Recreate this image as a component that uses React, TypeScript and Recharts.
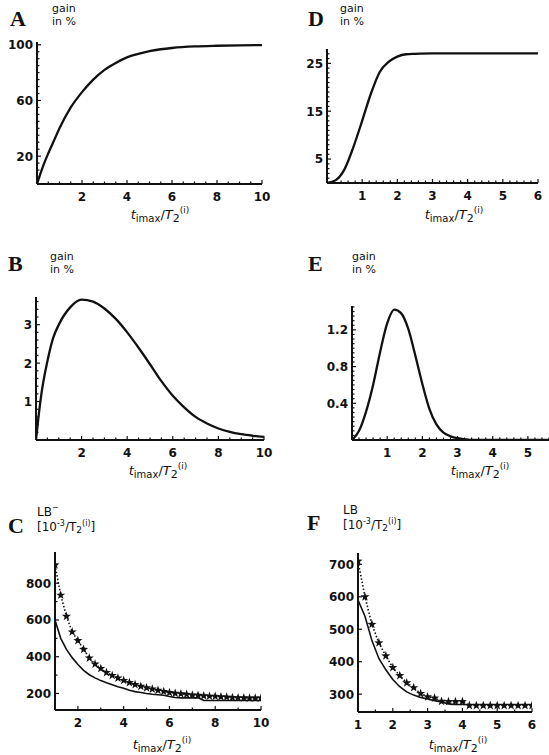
import React from 'react';
import { LineChart, Line, XAxis, YAxis } from 'recharts';

// A: gain in % vs timax/T2
const aX = [0, 0.25, 0.5, 0.75, 1, 1.5, 2, 2.5, 3, 3.5, 4, 4.5, 5, 5.5, 6, 7, 8, 9, 10];
const aGain = [0, 12, 22, 31, 40, 55, 66, 75, 82, 87, 91, 93.5, 95.5, 96.8, 97.7, 98.8, 99.3, 99.6, 99.8];
const aXLabels = [2, 4, 6, 8, 10];
const aYLabels = [20, 60, 100];

// B
const bX = [0, 0.1, 0.25, 0.5, 0.75, 1, 1.5, 2, 2.5, 3, 3.5, 4, 4.5, 5, 5.5, 6, 6.5, 7, 7.5, 8, 8.5, 9, 9.5, 10];
const bGain = [0, 0.55, 1.25, 2.05, 2.65, 3.0, 3.45, 3.65, 3.6, 3.42, 3.15, 2.8, 2.4, 1.97, 1.53, 1.15, 0.85, 0.6, 0.43, 0.3, 0.21, 0.15, 0.11, 0.08];
const bXLabels = [2, 4, 6, 8, 10];
const bYLabels = [1, 2, 3];

// C: LB, stars (dotted) and solid
const cX = [1, 1.25, 1.5, 1.75, 2, 2.25, 2.5, 2.75, 3, 3.25, 3.5, 3.75, 4, 4.25, 4.5, 4.75, 5, 5.25, 5.5, 5.75, 6, 6.25, 6.5, 6.75, 7, 7.25, 7.5, 7.75, 8, 8.25, 8.5, 8.75, 9, 9.25, 9.5, 9.75, 10];
const cStar = [900, 735, 620, 535, 488, 440, 393, 360, 336, 314, 298, 284, 271, 259, 248, 239, 231, 224, 217, 211, 205, 201, 198, 195, 192, 190, 187, 185, 184, 182, 180, 178, 177, 176, 175, 175, 175];
const cSolid = [600, 500, 440, 395, 358, 326, 302, 285, 270, 258, 248, 237, 228, 218, 210, 205, 200, 196, 193, 190, 183, 178, 176, 176, 176, 176, 162, 162, 162, 162, 162, 162, 162, 162, 162, 162, 162];
const cXLabels = [2, 4, 6, 8, 10];
const cYLabels = [200, 400, 600, 800];

// D
const dX = [0, 0.25, 0.5, 0.75, 1, 1.25, 1.5, 1.75, 2, 2.25, 2.5, 3, 4, 5, 6];
const dGain = [0, 0.6, 2.9, 7.5, 13, 18.7, 23.2, 25.3, 26.4, 26.9, 27.0, 27.1, 27.1, 27.1, 27.1];
const dXLabels = [1, 2, 3, 4, 5, 6];
const dYLabels = [5, 15, 25];

// E
const eX = [0, 0.2, 0.4, 0.6, 0.8, 1, 1.2, 1.4, 1.6, 1.8, 2, 2.2, 2.4, 2.6, 2.8, 3, 3.2, 3.4, 4, 5, 5.6];
const eGain = [0, 0.1, 0.31, 0.6, 0.96, 1.27, 1.42, 1.38, 1.21, 0.92, 0.61, 0.34, 0.17, 0.08, 0.04, 0.02, 0.01, 0, 0, 0, 0];
const eXLabels = [1, 2, 3, 4, 5];
const eYLabels = [0.4, 0.8, 1.2];

// F
const fX = [1, 1.2, 1.4, 1.6, 1.8, 2, 2.2, 2.4, 2.6, 2.8, 3, 3.2, 3.4, 3.6, 3.8, 4, 4.2, 4.4, 4.6, 4.8, 5, 5.2, 5.4, 5.6, 5.8, 6];
const fStar = [710, 600, 515, 458, 418, 382, 357, 335, 320, 302, 292, 288, 278, 277, 277, 277, 265, 265, 265, 265, 265, 265, 265, 265, 265, 265];
const fSolid = [590, 540, 465, 410, 375, 345, 323, 307, 297, 290, 285, 280, 276, 270, 268, 268, 268, 268, 268, 268, 268, 268, 268, 268, 268, 268];
const fXLabels = [1, 2, 3, 4, 5, 6];
const fYLabels = [300, 400, 500, 600, 700];

const INK = '#111';
const SANS = 'DejaVu Sans';

// tick positions incl. minor ticks
function steps(from: number, to: number, step: number) {
  const out: number[] = [];
  for (let v = from; v <= to + 1e-9; v += step) out.push(Math.round(v * 1000) / 1000);
  return out;
}

const isMajor = (labels: number[], v: number) => labels.some((l) => Math.abs(l - v) < 1e-6);

function XTick(props: any) {
  const { x, y, payload, labels } = props;
  const major = isMajor(labels, payload.value);
  return (
    <g>
      <line x1={x} x2={x} y1={y} y2={y - (major ? 4 : 2.5)} stroke={INK} strokeWidth={1.2} />
      {major && (
        <text x={x} y={y + 17} textAnchor="middle" fontFamily={SANS} fontWeight="bold" fontSize={12} fill={INK}>
          {String(payload.value)}
        </text>
      )}
    </g>
  );
}

function YTick(props: any) {
  const { x, y, payload, labels } = props;
  const major = isMajor(labels, payload.value);
  return (
    <g>
      <line x1={x} x2={x + (major ? 4 : 2.5)} y1={y} y2={y} stroke={INK} strokeWidth={1.2} />
      {major && (
        <text x={x - 4} y={y + 4.4} textAnchor="end" fontFamily={SANS} fontWeight="bold" fontSize={12} fill={INK}>
          {String(payload.value)}
        </text>
      )}
    </g>
  );
}

function StarDot(props: any) {
  const { cx, cy } = props;
  if (cx == null || cy == null) return null;
  const pts: string[] = [];
  for (let i = 0; i < 10; i++) {
    const r = i % 2 === 0 ? 4.8 : 1.9;
    const a = -Math.PI / 2 + (i * Math.PI) / 5;
    pts.push(`${(cx + r * Math.cos(a)).toFixed(2)},${(cy + r * Math.sin(a)).toFixed(2)}`);
  }
  return <polygon points={pts.join(' ')} fill={INK} />;
}

interface PlotRect {
  left: number;
  top: number;
  right: number;
  bottom: number;
}

interface PanelProps {
  plot: PlotRect;
  data: any[];
  xDomain: [number, number];
  yDomain: [number, number];
  xTicks: number[];
  yTicks: number[];
  xLabels: number[];
  yLabels: number[];
  children: React.ReactNode;
}

const Y_W = 36;
const X_H = 28;

function Panel({ plot, data, xDomain, yDomain, xTicks, yTicks, xLabels, yLabels, children }: PanelProps) {
  const padL = 40, padT = 10, padR = 12, padB = 30;
  const w = plot.right - plot.left + padL + padR;
  const h = plot.bottom - plot.top + padT + padB;
  return (
    <div style={{ position: 'absolute', left: plot.left - padL, top: plot.top - padT, width: w, height: h }}>
      <LineChart width={w} height={h} data={data} margin={{ top: padT, right: padR, bottom: padB - X_H, left: padL - Y_W }}>
        <XAxis
          dataKey="x"
          type="number"
          domain={xDomain}
          ticks={xTicks}
          interval={0}
          height={X_H}
          tickSize={0}
          tickMargin={0}
          allowDataOverflow
          axisLine={{ stroke: INK, strokeWidth: 2 }}
          tickLine={false}
          tick={<XTick labels={xLabels} />}
        />
        <YAxis
          type="number"
          domain={yDomain}
          ticks={yTicks}
          interval={0}
          width={Y_W}
          tickSize={0}
          tickMargin={0}
          allowDataOverflow
          axisLine={{ stroke: INK, strokeWidth: 2 }}
          tickLine={false}
          tick={<YTick labels={yLabels} />}
        />
        {children}
      </LineChart>
    </div>
  );
}

function XTitle({ cx, y }: { cx: number; y: number }) {
  return (
    <text x={cx} y={y} textAnchor="middle" fontFamily={SANS} fontSize={13} fill={INK}>
      <tspan fontStyle="italic">t</tspan>
      <tspan fontSize={10} dy={3}>imax</tspan>
      <tspan dy={-3}>/</tspan>
      <tspan fontStyle="italic">T</tspan>
      <tspan fontSize={11} dy={3}>2</tspan>
      <tspan fontSize={9} dy={-9}>(i)</tspan>
    </text>
  );
}

function GainTitle({ x, y }: { x: number; y: number }) {
  return (
    <g fontFamily={SANS} fontSize={11} fill={INK}>
      <text x={x} y={y}>gain</text>
      <text x={x} y={y + 13}>in %</text>
    </g>
  );
}

function LBTitle({ x, y, bar }: { x: number; y: number; bar: boolean }) {
  return (
    <g fontFamily={SANS} fontSize={12} fill={INK}>
      <text x={x} y={y}>
        LB
        {bar && <tspan fontSize={8} dy={-6}>−</tspan>}
      </text>
      <text x={x} y={y + 15}>
        [10
        <tspan fontSize={8} dy={-5}>-3</tspan>
        <tspan dy={5}>/T</tspan>
        <tspan fontSize={9} dy={2}>2</tspan>
        <tspan fontSize={8} dy={-7}>(i)</tspan>
        <tspan dy={5}>]</tspan>
      </text>
    </g>
  );
}

function Letter({ x, y, children }: { x: number; y: number; children: string }) {
  return (
    <text x={x} y={y} fontFamily="Liberation Serif" fontWeight="bold" fontSize={22} fill={INK}>
      {children}
    </text>
  );
}

const curve = () => ({ stroke: INK, strokeWidth: 2.3, dot: false as const, isAnimationActive: false });

export default function App() {
  const aData = aX.map((x, i) => ({ x, y: aGain[i] }));
  const bData = bX.map((x, i) => ({ x, y: bGain[i] }));
  const cData = cX.map((x, i) => ({ x, star: cStar[i], solid: cSolid[i] }));
  const dData = dX.map((x, i) => ({ x, y: dGain[i] }));
  const eData = eX.map((x, i) => ({ x, y: eGain[i] }));
  const fData = fX.map((x, i) => ({ x, star: fStar[i], solid: fSolid[i] }));

  const starDot = (p: any) => <StarDot key={`s-${p.index}`} cx={p.cx} cy={p.cy} />;

  return (
    <div style={{ position: 'absolute', left: 0, top: 0, width: 549, height: 755, background: '#fff', overflow: 'hidden' }}>
      <Panel plot={{ left: 37, top: 42, right: 262, bottom: 184 }} data={aData} xDomain={[0, 10]} yDomain={[0, 102]}
        xTicks={steps(0.5, 10, 0.5)} yTicks={steps(5, 100, 5)} xLabels={aXLabels} yLabels={aYLabels}>
        <Line type="monotone" dataKey="y" {...curve()} />
      </Panel>

      <Panel plot={{ left: 36, top: 297, right: 264, bottom: 440 }} data={bData} xDomain={[0, 10]} yDomain={[0, 3.72]}
        xTicks={steps(0.5, 10, 0.5)} yTicks={steps(0.2, 3.6, 0.2)} xLabels={bXLabels} yLabels={bYLabels}>
        <Line type="monotone" dataKey="y" {...curve()} />
      </Panel>

      <Panel plot={{ left: 55, top: 552, right: 261, bottom: 710 }} data={cData} xDomain={[1, 10]} yDomain={[110, 970]}
        xTicks={steps(2, 10, 1)} yTicks={steps(200, 900, 100)} xLabels={cXLabels} yLabels={cYLabels}>
        <Line type="linear" dataKey="solid" stroke={INK} strokeWidth={1.6} dot={false} isAnimationActive={false} />
        <Line type="linear" dataKey="star" stroke={INK} strokeWidth={1.6} strokeDasharray="1.5 2" dot={starDot} isAnimationActive={false} />
      </Panel>

      <Panel plot={{ left: 327, top: 49, right: 538, bottom: 183 }} data={dData} xDomain={[0, 6]} yDomain={[0, 28]}
        xTicks={steps(0.2, 6, 0.2)} yTicks={steps(1, 27, 1)} xLabels={dXLabels} yLabels={dYLabels}>
        <Line type="monotone" dataKey="y" {...curve()} />
      </Panel>

      <Panel plot={{ left: 352, top: 306, right: 549, bottom: 440 }} data={eData} xDomain={[0, 5.6]} yDomain={[0, 1.46]}
        xTicks={steps(0.2, 5.6, 0.2)} yTicks={steps(0.05, 1.45, 0.05)} xLabels={eXLabels} yLabels={eYLabels}>
        <Line type="monotone" dataKey="y" {...curve()} />
      </Panel>

      <Panel plot={{ left: 358, top: 553, right: 532, bottom: 712 }} data={fData} xDomain={[1, 6]} yDomain={[245, 735]}
        xTicks={steps(1, 6, 0.5)} yTicks={steps(300, 700, 100)} xLabels={fXLabels} yLabels={fYLabels}>
        <Line type="linear" dataKey="solid" stroke={INK} strokeWidth={1.6} dot={false} isAnimationActive={false} />
        <Line type="linear" dataKey="star" stroke={INK} strokeWidth={1.6} strokeDasharray="1.5 2" dot={starDot} isAnimationActive={false} />
      </Panel>

      <svg width={549} height={755} style={{ position: 'absolute', left: 0, top: 0, pointerEvents: 'none' }}>
        <Letter x={10} y={26}>A</Letter>
        <GainTitle x={52} y={12} />
        <XTitle cx={160} y={219} />

        <Letter x={308} y={26}>D</Letter>
        <GainTitle x={340} y={12} />
        <XTitle cx={454} y={219} />

        <Letter x={8} y={271}>B</Letter>
        <GainTitle x={50} y={260} />
        <XTitle cx={158} y={475} />

        <Letter x={308} y={271}>E</Letter>
        <GainTitle x={352} y={260} />
        <XTitle cx={480} y={475} />

        <Letter x={8} y={533}>C</Letter>
        <LBTitle x={37} y={516} bar />
        <XTitle cx={162} y={749} />

        <Letter x={307} y={530}>F</Letter>
        <LBTitle x={343} y={514} bar={false} />
        <XTitle cx={458} y={749} />
      </svg>
    </div>
  );
}
